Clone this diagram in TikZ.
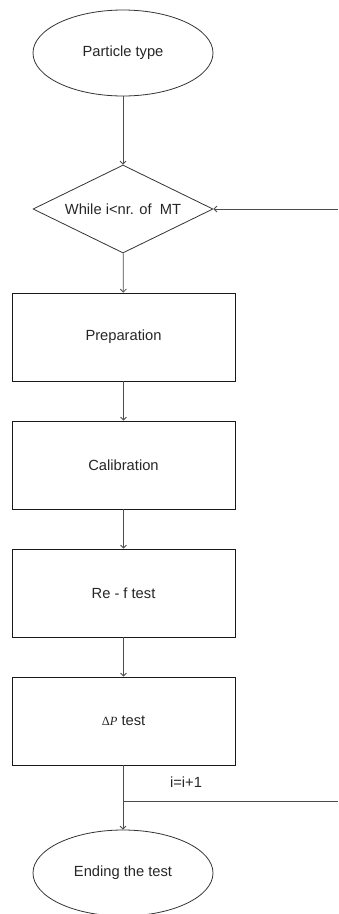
\documentclass[tikz,border=0pt]{standalone}
\usepackage{fontspec}
\setmainfont{Liberation Sans}
\newfontfamily\serifdelta{Liberation Serif}
\usetikzlibrary{shapes.geometric,arrows.meta}
\tikzset{
  line/.style={draw=black!70, line width=0.8pt},
  arr/.style={line, -{Straight Barb[length=3pt,width=6pt]}},
  term/.style={ellipse, draw=black!80, line width=0.8pt, minimum width=180pt, minimum height=86pt, inner sep=0pt},
  decision/.style={diamond, draw=black!80, line width=0.8pt, minimum width=180pt, minimum height=88pt, inner sep=0pt, aspect=2.05},
  proc/.style={rectangle, draw=black!90, line width=0.8pt, minimum width=223pt, minimum height=88pt, inner sep=0pt},
  every node/.style={font=\fontsize{14.7pt}{17pt}\selectfont, text=black!85}
}
\begin{document}
\begin{tikzpicture}[x=1pt,y=-1pt]
\useasboundingbox (0,0) rectangle (338,914);
\node[term] (start) at (123,53) {\raisebox{3pt}{Particle type}};
\node[decision] (loop) at (123,209) {While i<nr. of \ MT};
\node[proc] (prep) at (123.5,337) {Preparation};
\node[proc] (cal) at (123.5,465) {Calibration};
\node[proc] (ref) at (123.5,593) {Re - f test};
\node[proc] (dp) at (123.5,721) {{\serifdelta\fontsize{12.5pt}{14pt}\selectfont Δ\itshape P} test};
\node[term] (end) at (123,873) {Ending the test};
\coordinate (loopR) at (338,209);
\coordinate (j) at (123,801);
\coordinate (jR) at (338,801);
\node (inc) at (186,782) {i=i+1};
\draw[arr] (start) -- (loop);
\draw[arr] (loopR) -- (loop.east);
\draw[arr] (loop) -- (prep);
\draw[arr] (prep) -- (cal);
\draw[arr] (cal) -- (ref);
\draw[arr] (ref) -- (dp);
\draw[arr] (dp.south -| j) -- (end.north);
\draw[line] (j) -- (jR);
\end{tikzpicture}
\end{document}
